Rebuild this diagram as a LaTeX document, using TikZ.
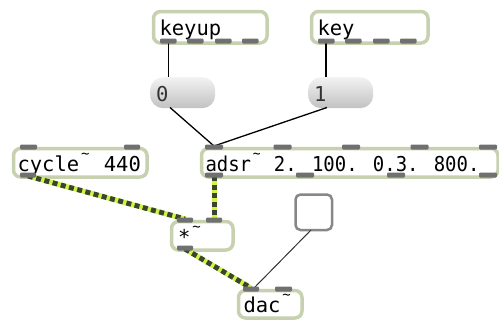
\documentclass[tikz,border=0pt]{standalone}
\usepackage{graphicx}
\usepackage{fontspec}
\newfontfamily\maxmono{DejaVu Sans Mono}
\definecolor{boxgreen}{RGB}{199,209,175}
\definecolor{portgray}{RGB}{112,112,112}
\definecolor{sigyellow}{RGB}{205,245,70}
\definecolor{sigdark}{RGB}{60,68,45}
\definecolor{togglegray}{RGB}{135,135,135}
\newcommand\tld{\makebox[0.602em][c]{\raisebox{0.64em}{\fontsize{14}{14}\selectfont\char"7E}}}
\newcommand\lb[2]{\makebox[#1][l]{#2}}
\tikzset{
  obj/.style={draw=boxgreen, line width=3.5pt, fill=white, rounded corners=7pt,
    anchor=north west, inner xsep=5pt, inner ysep=0pt,
    font=\maxmono\fontsize{20.5}{20.5}\selectfont, text height=17pt, text depth=0pt},
  msg/.style={draw=none, rounded corners=13pt, top color=gray!10, bottom color=gray!48,
    anchor=north west, inner xsep=6pt, inner ysep=0pt, text=black!80,
    font=\maxmono\fontsize{20.5}{20.5}\selectfont, text height=17pt, text depth=0pt},
  togglebox/.style={draw=togglegray, line width=2.5pt, fill=white, rounded corners=5pt,
    anchor=north west, inner sep=0pt},
  port/.style={fill=portgray, rounded corners=1.2pt},
  ctl/.style={line width=1.3pt, draw=black},
  thinctl/.style={line width=1pt, draw=black!80},
  sig/.style={line width=5pt, draw=sigdark, dash pattern=on 5pt off 3.5pt,
    preaction={draw=sigyellow, solid, line width=5pt}},
}
\begin{document}
\begin{tikzpicture}[x=1pt, y=-1pt]
\useasboundingbox (0,0) rectangle (499,325);
% objects
\node[obj, inner xsep=6pt, minimum height=31.5pt] (keyup) at (151.75,9.75) {\lb{101.5pt}{keyup}};
\node[obj, inner xsep=6pt, minimum height=31.5pt] (key) at (309.75,9.75) {\lb{104.5pt}{key}};
\node[msg, minimum height=31pt] (zero) at (150,77) {\lb{53pt}{0}};
\node[msg, minimum height=31pt] (one) at (308,77) {\lb{53pt}{1}};
\node[obj, inner xsep=4pt, minimum height=28.5pt] (cycle) at (11.75,146.75) {\lb{125.5pt}{cycle\tld{} 440}};
\node[obj, inner xsep=4pt, minimum height=28.5pt] (adsr) at (199.75,146.75) {\lb{288.5pt}{\scalebox{0.925}[1]{adsr\tld{} 2. 100. 0.3. 800.}}};
\node[obj, inner xsep=6.5pt, minimum height=28.5pt] (mul) at (169.75,219.75) {\lb{48.5pt}{*\tld}};
\node[togglebox, minimum width=36.5pt, minimum height=35.5pt] (toggle) at (294.25,193.25) {};
\node[obj, inner xsep=5pt, minimum height=27.5pt] (dac) at (236.75,288.75) {\lb{53.5pt}{dac\tld}};
% connection points
\coordinate (keyupO) at (168.5,43);
\coordinate (keyO) at (326,43);
\coordinate (zeroI) at (168.5,77);
\coordinate (oneI) at (326,77);
\coordinate (zeroO) at (170,107.5);
\coordinate (oneO) at (327,107.5);
\coordinate (adsrI) at (214,146);
\coordinate (cycleO) at (28,176);
\coordinate (adsrO) at (214,176);
\coordinate (mulIa) at (185,219);
\coordinate (mulIb) at (214,219);
\coordinate (mulO) at (185,249);
\coordinate (dacIa) at (251,288);
\coordinate (toggleO) at (311,230);
\coordinate (dacIb) at (254,288);
% control cords
\draw[ctl] (keyupO) -- (zeroI);
\draw[ctl] (keyO) -- (oneI);
\draw[ctl] (zeroO) -- (adsrI);
\draw[ctl] (oneO) -- (adsrI);
\draw[thinctl] (toggleO) -- (dacIb);
% signal cords
\draw[sig] (cycleO) -- (mulIa);
\draw[sig] (adsrO) -- (mulIb);
\draw[sig] (mulO) -- (dacIa);
% ports: keyup / key outlets
\foreach \a in {160,187,215,242} \fill[port] (\a,38.5) rectangle ++(16.5,5);
\foreach \a in {318,345,373,400} \fill[port] (\a,38.5) rectangle ++(16.5,5);
% cycle~
\fill[port] (20,144.5) rectangle ++(17,5);
\fill[port] (124,144.5) rectangle ++(16,5);
\fill[port] (20,172.5) rectangle ++(16,5);
% adsr~
\foreach \a in {205,273.5,342,410.5,479} \fill[port] (\a,144.5) rectangle ++(18,5);
\foreach \a in {205,296,387,479} \fill[port] (\a,172.5) rectangle ++(18,5);
% *~
\fill[port] (177,217.5) rectangle ++(16,5);
\fill[port] (206,217.5) rectangle ++(16,5);
\fill[port] (177,245.5) rectangle ++(16,5);
% dac~
\fill[port] (243,286.5) rectangle ++(16,5);
\fill[port] (275,286.5) rectangle ++(17,5);
\end{tikzpicture}
\end{document}
